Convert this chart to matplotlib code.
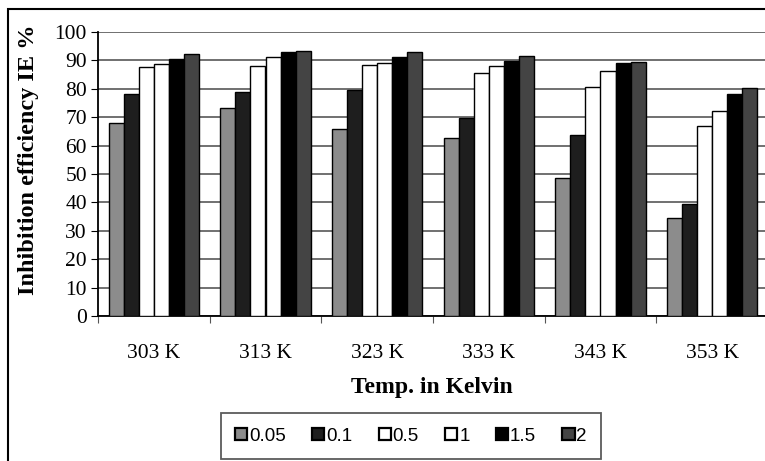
import matplotlib.pyplot as plt
from matplotlib.patches import Rectangle
import numpy as np

# temperatures on the x axis and inhibitor concentrations in the legend
temps = ['303 K', '313 K', '323 K', '333 K', '343 K', '353 K']
conc = ['0.05', '0.1', '0.5', '1', '1.5', '2']

# inhibition efficiency (%) for each concentration, one value per temperature
ie_005 = [68.1, 73.1, 65.7, 62.6, 48.5, 34.4]
ie_01 = [78.2, 78.8, 79.6, 69.6, 63.7, 39.4]
ie_05 = [87.7, 88.1, 88.4, 85.5, 80.7, 67.0]
ie_1 = [88.6, 91.3, 89.0, 88.0, 86.4, 72.2]
ie_15 = [90.4, 92.8, 91.1, 89.8, 89.0, 78.1]
ie_2 = [92.1, 93.4, 92.8, 91.5, 89.5, 80.2]

series = [ie_005, ie_01, ie_05, ie_1, ie_15, ie_2]
colors = ['#8c8c8c', '#1e1e1e', 'white', 'white', 'black', '#444444']

fig = plt.figure(figsize=(7.65, 4.61), dpi=100)
plt.rcParams['font.family'] = 'Liberation Serif'

# outer chart border (runs off the right and bottom of the image)
fig.patches.append(Rectangle((8 / 765, -0.05), 1.2, 1 - 9 / 461 + 0.05,
                             transform=fig.transFigure, fill=False,
                             edgecolor='black', linewidth=1.5, zorder=0))

ax = fig.add_axes([98 / 765, 1 - 316 / 461, 670 / 765, 284 / 461])

x = np.arange(len(temps))
width = 0.1345
for i, (vals, c) in enumerate(zip(series, colors)):
    ax.bar(x + (i - 2.5) * width, vals, width, color=c, edgecolor='black',
           linewidth=1.0, label=conc[i], zorder=3)

ax.set_xlim(-0.5, 5.5)
ax.set_ylim(0, 100)
ax.set_yticks(range(0, 101, 10))
ax.yaxis.grid(True, color='#707070', linewidth=1.4, zorder=0)
ax.set_axisbelow(True)

# ticks at group boundaries, labels at group centres
ax.set_xticks(np.arange(-0.5, 6.0, 1.0))
ax.set_xticklabels([])
ax.set_xticks(x, minor=True)
ax.set_xticklabels(temps, minor=True, fontsize=15.5)
ax.tick_params(axis='x', which='major', direction='out', length=5, color='#555555')
ax.tick_params(axis='x', which='minor', length=0, pad=20)
ax.tick_params(axis='y', direction='out', length=5, pad=3, labelsize=15.5)

for s in ['top', 'right']:
    ax.spines[s].set_visible(False)
ax.spines['left'].set_linewidth(1.3)
ax.spines['bottom'].set_linewidth(1.3)

ax.set_ylabel('Inhibition efficiency IE %', fontsize=17.5, fontweight='bold')
ax.yaxis.set_label_coords(-0.088, 0.55)
fig.text(432 / 765, 1 - 387 / 461, 'Temp. in Kelvin', ha='center', va='center',
         fontsize=17, fontweight='bold')

leg = fig.legend(loc='center', bbox_to_anchor=(411 / 765, 1 - 436 / 461), ncol=6,
                 frameon=True, fancybox=False, edgecolor='#333333',
                 prop={'family': 'Liberation Sans', 'size': 13.5},
                 handlelength=0.65, handleheight=0.65, handletextpad=0.1,
                 columnspacing=1.4, borderpad=0.75, borderaxespad=0)
leg.get_frame().set_linewidth(1.3)
for h in leg.legend_handles:
    h.set_linewidth(1.6)

fig.savefig('out.png', dpi=100)
